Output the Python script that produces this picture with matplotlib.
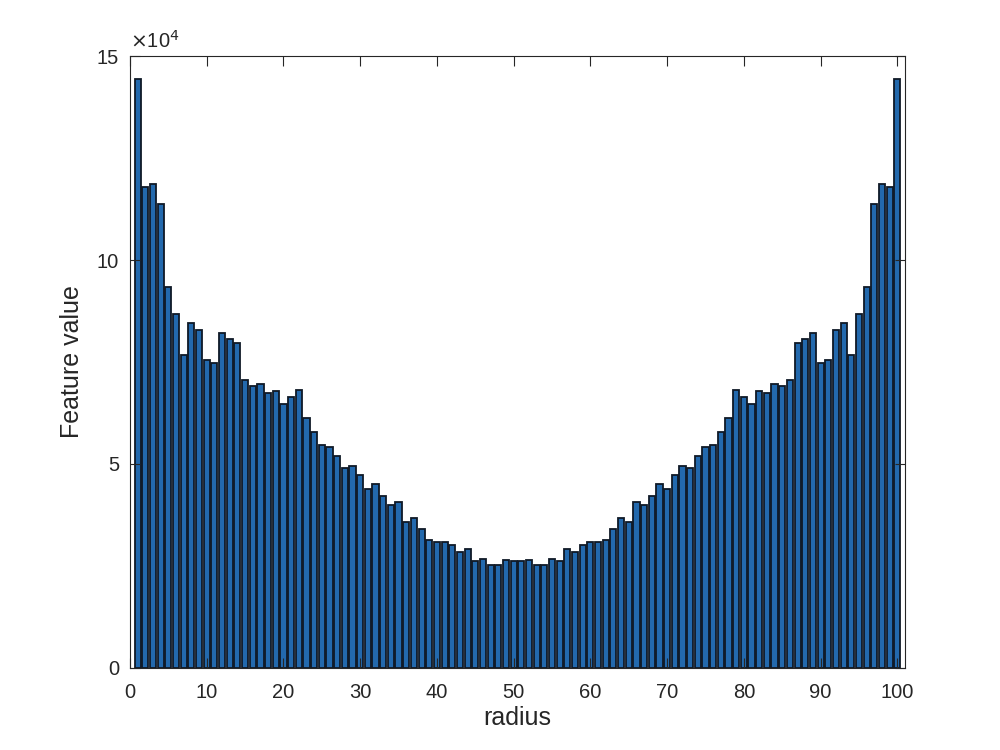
import matplotlib
matplotlib.use("Agg")
import matplotlib.pyplot as plt

radius = list(range(1, 101))
feature_value = [
    144500, 117800, 118700, 113800, 93300, 86700, 76700, 84500, 82700, 75400,
    74800, 82200, 80500, 79700, 70500, 69100, 69600, 67400, 67800, 64700,
    66500, 68200, 61300, 57900, 54700, 54200, 52000, 49000, 49400, 47200,
    43700, 45100, 42200, 39800, 40700, 35800, 36700, 34000, 31400, 30900,
    30900, 30000, 28400, 29200, 26200, 26600, 25200, 25200, 26500, 26100,
    26100, 26500, 25200, 25200, 26600, 26200, 29200, 28400, 30000, 30900,
    30900, 31400, 34000, 36700, 35800, 40700, 39800, 42200, 45100, 43700,
    47200, 49400, 49000, 52000, 54200, 54700, 57900, 61300, 68200, 66500,
    64700, 67800, 67400, 69600, 69100, 70500, 79700, 80500, 82200, 74800,
    75400, 82700, 84500, 76700, 86700, 93300, 113800, 118700, 117800, 144500,
]
x_ticks = [0, 10, 20, 30, 40, 50, 60, 70, 80, 90, 100]
y_ticks = [0, 50000, 100000, 150000]
y_tick_labels = ["0", "5", "10", "15"]

plt.rcParams['font.family'] = ['Liberation Sans', 'DejaVu Sans']
gray = '#262626'

fig = plt.figure(figsize=(10, 7.5), dpi=100)
ax = fig.add_axes([0.13, 0.11, 0.775, 0.815])
ax.bar(radius, feature_value, width=0.8, color='#2369ad', edgecolor='#0f1926',
       linewidth=1.3)

ax.set_xlim(0, 101)
ax.set_ylim(0, 150000)
ax.set_xticks(x_ticks)
ax.set_yticks(y_ticks)
ax.set_yticklabels(y_tick_labels)
ax.tick_params(direction='in', length=7, width=0.8, top=True, right=True,
               labeltop=False, labelright=False, labelsize=14.5, colors=gray)
ax.tick_params(axis='x', pad=11)
ax.tick_params(axis='y', pad=8)
for s in ax.spines.values():
    s.set_color(gray)
    s.set_linewidth(0.8)

ax.set_xlabel('radius', fontsize=18, color=gray, labelpad=3)
ax.set_ylabel('Feature value', fontsize=18, color=gray, labelpad=9)
ax.text(0.0, 1.008, r'$\times$10$^{4}$', transform=ax.transAxes, fontsize=14.5,
        color=gray, ha='left', va='bottom')

fig.savefig('out.png', dpi=100, facecolor='white')
